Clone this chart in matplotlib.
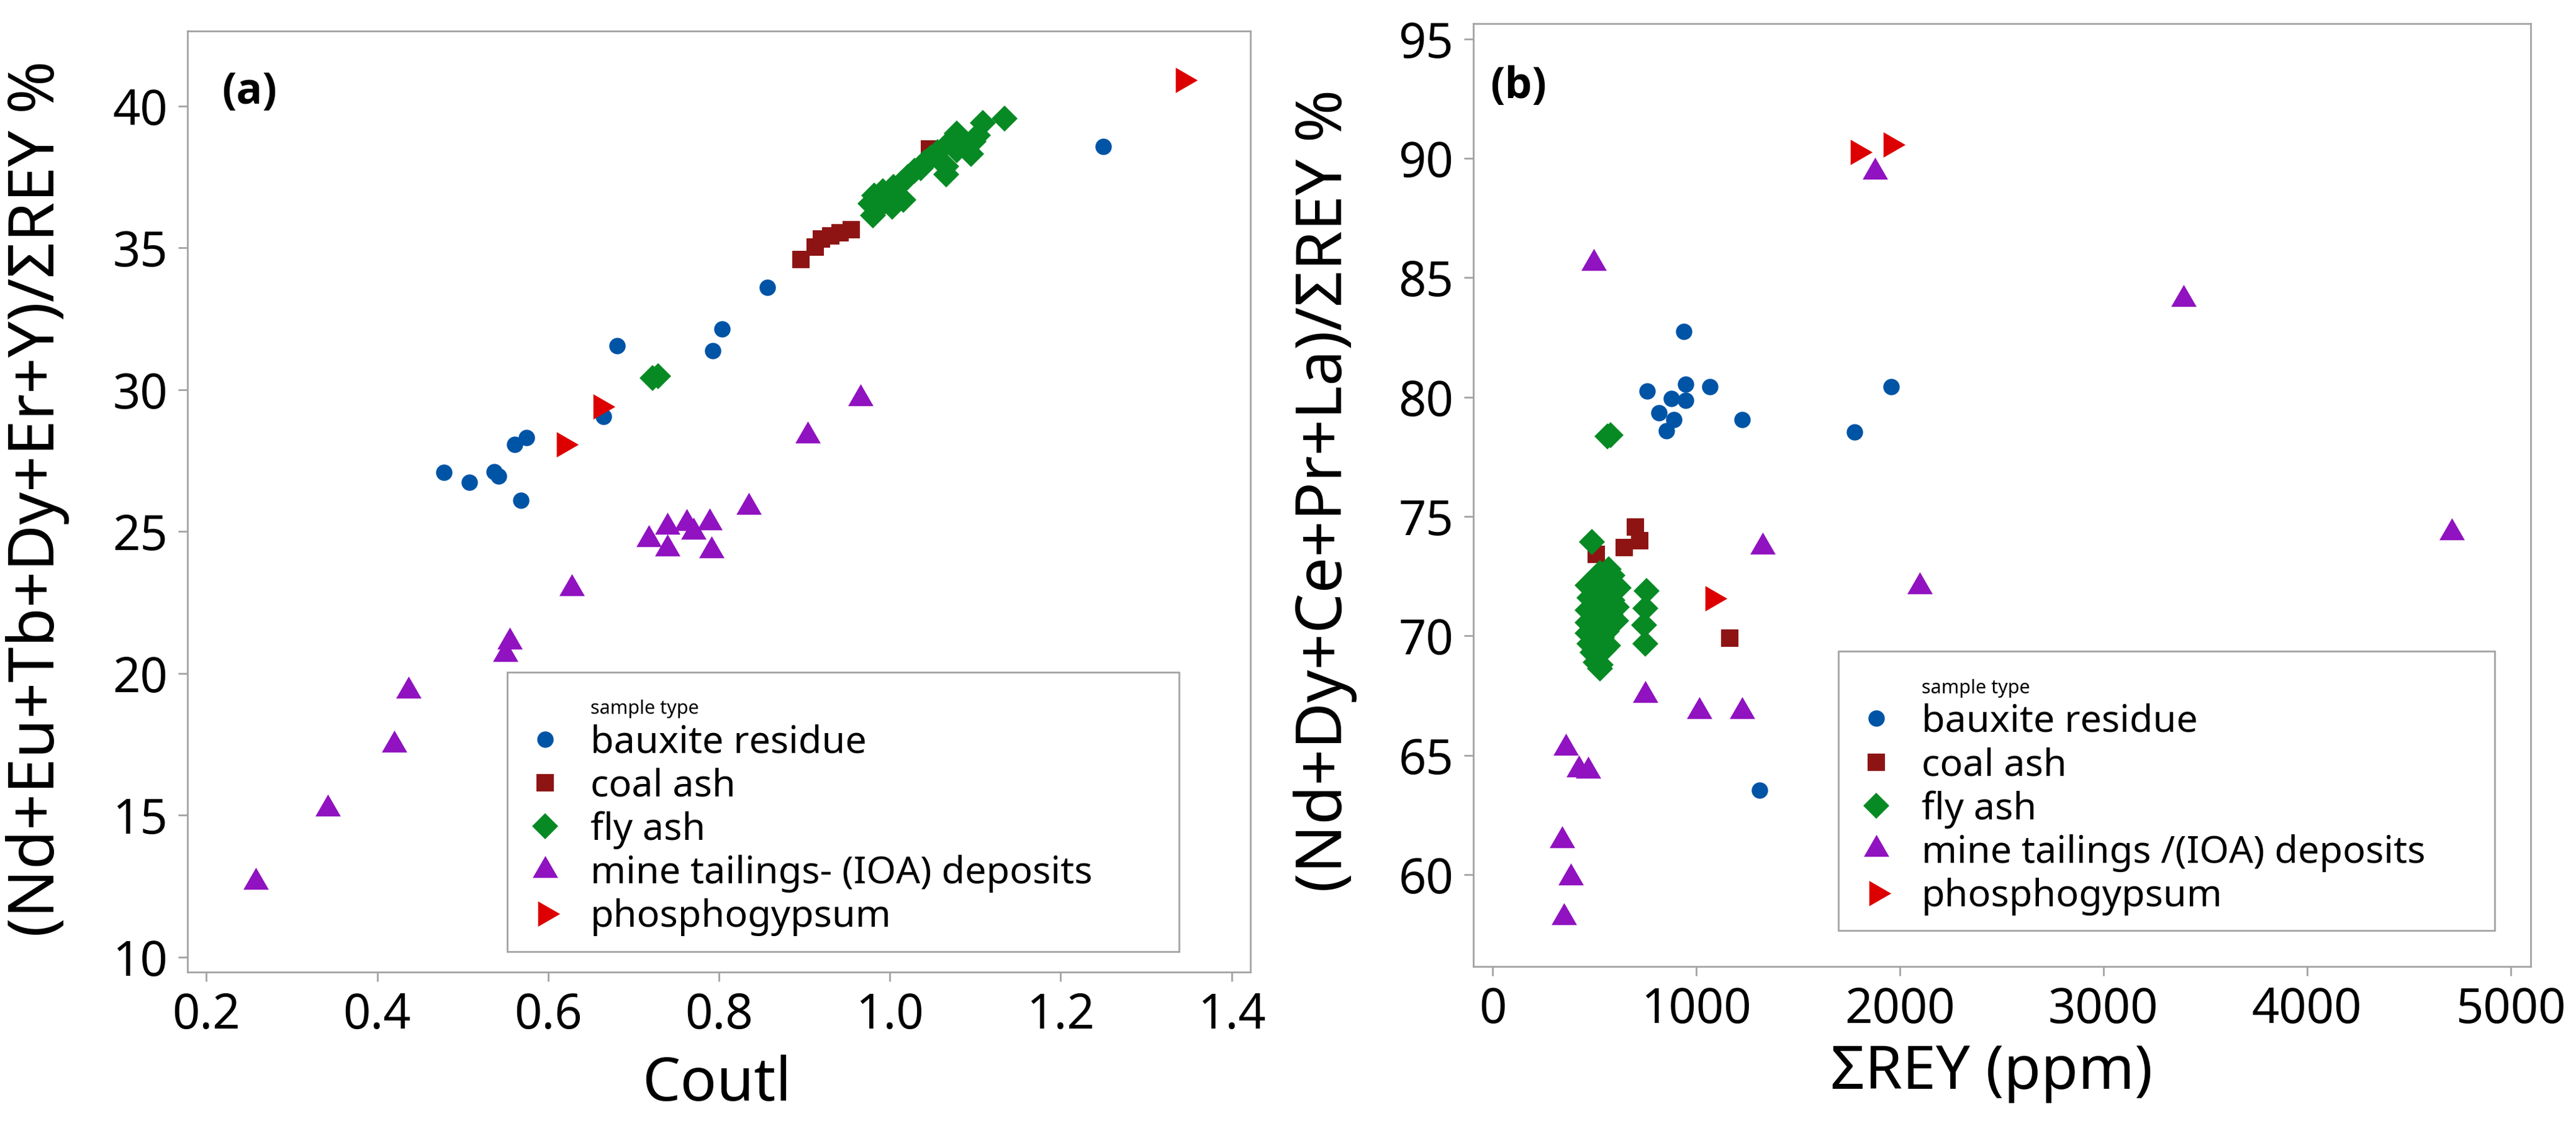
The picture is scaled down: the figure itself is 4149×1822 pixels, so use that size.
import matplotlib.pyplot as plt
from matplotlib.lines import Line2D

plt.rcParams['font.family'] = ['Noto Sans', 'DejaVu Sans']
plt.rcParams['font.weight'] = 'medium'

# ---- panel (a): Coutl vs (Nd+Eu+Tb+Dy+Er+Y)/ΣREY %
bauxite_a_x = [0.478, 0.508, 0.537, 0.542, 0.561, 0.575, 0.568, 0.665, 0.681, 0.793, 0.804, 0.857, 1.250]
bauxite_a_y = [27.08, 26.74, 27.11, 26.95, 28.06, 28.31, 26.09, 29.06, 31.54, 31.38, 32.13, 33.60, 38.57]

coal_a_x = [0.896, 0.913, 0.920, 0.931, 0.942, 0.955, 1.046]
coal_a_y = [34.58, 35.02, 35.31, 35.42, 35.53, 35.64, 38.49]

fly_a_x = [0.722, 0.729, 0.980, 0.977, 0.982, 0.992, 1.004, 1.003, 1.016, 1.014, 0.992, 1.021,
           1.029, 1.036, 1.041, 1.048, 1.056, 1.066, 1.066, 1.078, 1.078, 1.071, 1.085, 1.095,
           1.098, 1.103, 1.109, 1.134]
fly_a_y = [30.40, 30.47, 36.15, 36.55, 36.85, 36.99, 37.14, 36.44, 36.70, 37.28, 36.55, 37.50,
           37.72, 37.80, 38.02, 38.17, 38.38, 37.87, 37.58, 38.45, 39.04, 38.75, 38.75, 38.31,
           38.75, 38.97, 39.40, 39.55]

mine_a_x = [0.258, 0.342, 0.420, 0.437, 0.550, 0.555, 0.628, 0.718, 0.740, 0.740, 0.762, 0.770,
            0.789, 0.791, 0.835, 0.904, 0.966]
mine_a_y = [12.65, 15.23, 17.47, 19.38, 20.67, 21.12, 22.99, 24.73, 25.17, 24.39, 25.30, 24.98,
            25.32, 24.32, 25.86, 28.37, 29.69]

phospho_a_x = [0.618, 0.661, 1.343]
phospho_a_y = [28.06, 29.40, 40.92]

# ---- panel (b): ΣREY (ppm) vs (Nd+Dy+Ce+Pr+La)/ΣREY %
bauxite_b_x = [940, 759, 878, 817, 891, 854, 948, 948, 1067, 1227, 1778, 1958, 1310]
bauxite_b_y = [82.75, 80.25, 79.95, 79.35, 79.05, 78.60, 80.55, 79.86, 80.43, 79.05, 78.53, 80.43, 63.54]

coal_b_x = [509, 645, 702, 722, 1166]
coal_b_y = [73.42, 73.70, 74.55, 74.00, 69.90]

fly_b_x = [489, 565, 580, 527, 588, 466, 618, 475, 588, 466, 516, 608, 466, 466, 537, 475, 567,
           516, 527, 756, 750, 744, 750,
           500, 540, 560, 500, 540, 490, 520, 560, 500, 545, 490, 600, 610, 580, 570, 505, 530]
fly_b_y = [73.93, 78.35, 78.42, 72.63, 72.53, 72.11, 72.00, 71.59, 71.49, 71.07, 70.89, 70.63,
           70.55, 70.11, 69.93, 69.67, 69.59, 69.15, 68.63, 71.88, 71.15, 70.45, 69.67,
           72.30, 72.20, 71.80, 71.30, 71.20, 70.30, 70.40, 70.20, 69.80, 69.40, 69.30, 71.90,
           71.20, 70.90, 72.80, 68.90, 68.80]

mine_b_x = [1880, 497, 3395, 4713, 1326, 2098, 751, 1014, 1227, 361, 425, 470, 340, 385, 352]
mine_b_y = [89.43, 85.60, 84.10, 74.32, 73.72, 72.06, 67.52, 66.85, 66.85, 65.30, 64.40, 64.35,
            61.44, 59.88, 58.20]

phospho_b_x = [1794, 1954, 1080]
phospho_b_y = [90.27, 90.57, 71.58]

names_a = ['bauxite residue', 'coal ash', 'fly ash', 'mine tailings- (IOA) deposits', 'phosphogypsum']
names_b = ['bauxite residue', 'coal ash', 'fly ash', 'mine tailings /(IOA) deposits', 'phosphogypsum']
colors = ['#0054a6', '#8e1414', '#078a24', '#9012c0', '#dd0000']
tri_up = [(-1, -0.577), (1, -0.577), (0, 1.155)]
tri_right = [(-0.577, -1), (-0.577, 1), (1.155, 0)]
markers = ['o', 's', 'D', tri_up, tri_right]
msizes = [19, 19.5, 21.5, 34, 34]

grey = '#a3a3a3'

fig = plt.figure(figsize=(41.49, 18.22), dpi=100)
ax1 = fig.add_axes([0.0728, 0.1405, 0.4126, 0.832])
ax2 = fig.add_axes([0.572, 0.1454, 0.4104, 0.8336])

panels = [
    (ax1, [(bauxite_a_x, bauxite_a_y), (coal_a_x, coal_a_y), (fly_a_x, fly_a_y),
           (mine_a_x, mine_a_y), (phospho_a_x, phospho_a_y)], names_a),
    (ax2, [(bauxite_b_x, bauxite_b_y), (coal_b_x, coal_b_y), (fly_b_x, fly_b_y),
           (mine_b_x, mine_b_y), (phospho_b_x, phospho_b_y)], names_b),
]

for ax, groups, names in panels:
    lines = []
    for (gx, gy), c, m, ms in zip(groups, colors, markers, msizes):
        ln, = ax.plot(gx, gy, linestyle='none', marker=m, markersize=ms,
                      color=c, markeredgewidth=0)
        lines.append(ln)
    for s in ax.spines.values():
        s.set_color(grey)
        s.set_linewidth(2)
    ax.tick_params(axis='both', direction='out', length=11, width=2, color=grey,
                   labelsize=56, labelcolor='black')
    ax.tick_params(axis='x', pad=11)
    ax.tick_params(axis='y', pad=12)
    dummy = Line2D([], [], linestyle='none', marker='')
    if ax is ax1:
        anchor = (0.301, 0.022, 0.632, 0.3)
    else:
        anchor = (0.345, 0.038, 0.621, 0.3)
    leg = ax.legend([dummy] + lines, ['sample type'] + names, loc='lower left',
                    bbox_to_anchor=anchor, mode='expand', fontsize=44, frameon=True,
                    fancybox=False, edgecolor=grey, framealpha=1, borderpad=0.4,
                    labelspacing=0.15, handlelength=1.2, handletextpad=0.59,
                    borderaxespad=0, numpoints=1)
    leg.get_frame().set_linewidth(2)
    leg.get_texts()[0].set_fontsize(22)

# panel (a) axes
ax1.set_xlim(0.178, 1.422)
ax1.set_ylim(9.47, 42.64)
ax1.set_xticks([0.2, 0.4, 0.6, 0.8, 1.0, 1.2, 1.4])
ax1.set_xticklabels(['0.2', '0.4', '0.6', '0.8', '1.0', '1.2', '1.4'])
ax1.set_yticks([10, 15, 20, 25, 30, 35, 40])
ax1.set_xlabel('Coutl', fontsize=70)
ax1.set_ylabel('(Nd+Eu+Tb+Dy+Er+Y)/ΣREY %', fontsize=74)
ax1.xaxis.set_label_coords(0.498, -0.088)
ax1.yaxis.set_label_coords(-0.111, 0.503)
ax1.text(0.032, 0.935, '(a)', transform=ax1.transAxes, fontsize=50,
         family=['Open Sans', 'DejaVu Sans'], fontweight='bold', ha='left', va='center')

# panel (b) axes
ax2.set_xlim(-94, 5099)
ax2.set_ylim(56.15, 95.64)
ax2.set_xticks([0, 1000, 2000, 3000, 4000, 5000])
ax2.set_yticks([60, 65, 70, 75, 80, 85, 90, 95])
ax2.set_xlabel('ΣREY (ppm)', fontsize=70)
ax2.set_ylabel('(Nd+Dy+Ce+Pr+La)/ΣREY %', fontsize=74)
ax2.xaxis.set_label_coords(0.49, -0.081)
ax2.yaxis.set_label_coords(-0.110, 0.505)
ax2.text(0.016, 0.933, '(b)', transform=ax2.transAxes, fontsize=50,
         family=['Open Sans', 'DejaVu Sans'], fontweight='bold', ha='left', va='center')

fig.savefig('out.png', dpi=100)
